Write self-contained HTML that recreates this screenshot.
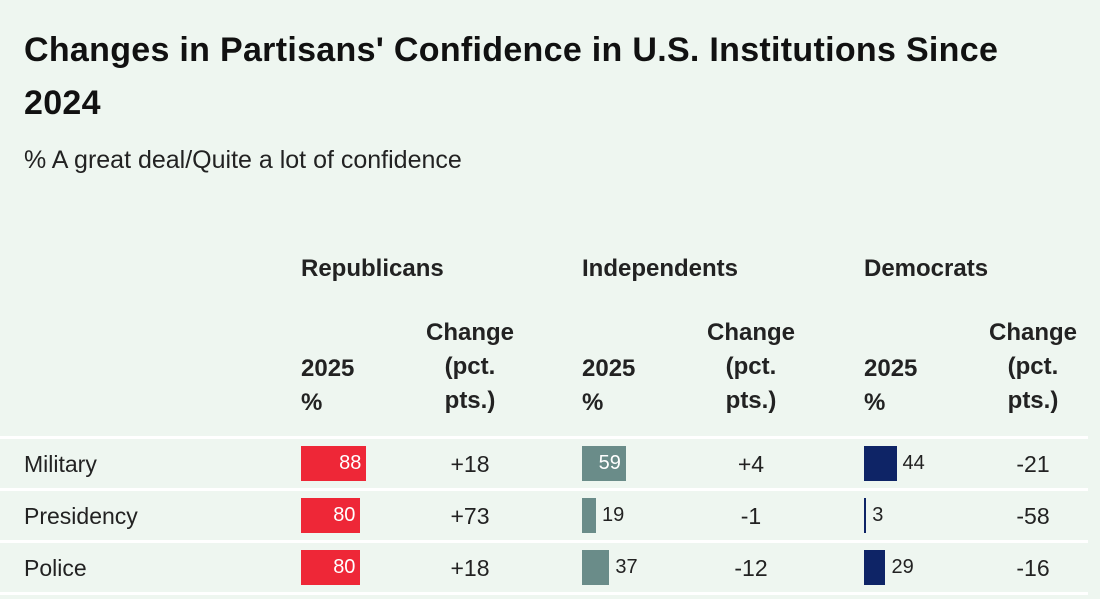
<!DOCTYPE html>
<html><head><meta charset="utf-8">
<style>
body{margin:0;width:1100px;height:599px;background:#eef6f0;font-family:"Liberation Sans",sans-serif;color:#111;overflow:hidden;position:relative}
.a{position:absolute;white-space:nowrap}
h1{position:absolute;margin:0;left:24px;top:24px;font-size:34px;line-height:53px;font-weight:bold;width:1020px;letter-spacing:0.3px}
.sub{left:24px;top:146px;font-size:25px;color:#222}
.grp{font-size:24px;font-weight:bold;top:255px;color:#222}
.hdr{font-size:24px;font-weight:bold;color:#222;line-height:34px}
.chg{text-align:center;width:140px}
.lbl{left:24px;font-size:23px;color:#222}
.val{font-size:20px}
.num{font-size:23px;text-align:center;width:120px;color:#222}
.sep{position:absolute;left:0;width:1088px;height:3px;background:#fff}
</style></head><body>
<h1>Changes in Partisans' Confidence in U.S. Institutions Since 2024</h1>
<div class="a sub">% A great deal/Quite a lot of confidence</div>
<div id="chart"></div>
<script>
const groups=["Republicans","Independents","Democrats"];
const institutions=["Military","Presidency","Police"];
const repValues=[88,80,80];
const indValues=[59,19,37];
const demValues=[44,3,29];
const repChange=["+18","+73","+18"];
const indChange=["+4","-1","-12"];
const demChange=["-21","-58","-16"];
const colors=["#ee2737","#6a8c89","#0e2466"];
const groupX=[301,582,864];
const values=[repValues,indValues,demValues];
const changes=[repChange,indChange,demChange];
const scale=v=>v*0.74;
const rowY=i=>437+i*52;
const c=document.getElementById('chart');
function mk(cls,txt,l,t){const d=document.createElement('div');d.className='a '+cls;d.textContent=txt;d.style.left=l+'px';d.style.top=t+'px';c.appendChild(d);return d;}
groups.forEach((g,gi)=>{
  const x=groupX[gi];
  const gh=mk('grp',g,x,255);
  
  
  const h1=mk('hdr','2025\n%',x,352);h1.style.whiteSpace='pre';
  
  
  const h2=mk('hdr chg','Change\n(pct.\npts.)',x+99,316);h2.style.whiteSpace='pre';
  
  
});
for(let i=0;i<=institutions.length;i++){
  const s=document.createElement('div');s.className='sep';s.style.top=(rowY(i)-1)+'px';
  
  
  c.appendChild(s);
}
institutions.forEach((inst,i)=>{
  const y=rowY(i);
  const l=mk('lbl',inst,24,y+14);
  
  
  groups.forEach((g,gi)=>{
    const v=values[gi][i],x=groupX[gi],w=scale(v);
    const b=document.createElement('div');b.className='a';
    b.style.cssText=`left:${x}px;top:${y+9}px;width:${Math.max(w,2)}px;height:35px;background:${colors[gi]}`;
    
    
    c.appendChild(b);
    const t=mk('val',String(v),0,y+15);
    
    
    if(v>=50){t.style.color='#fff';t.style.left=(x+w-5-t.offsetWidth)+'px';}
    else{t.style.color='#222';t.style.left=(x+Math.max(w,2)+6)+'px';}
    const ch=mk('num',changes[gi][i],x+109,y+14);
    
    
  });
});
</script>
</body></html>
